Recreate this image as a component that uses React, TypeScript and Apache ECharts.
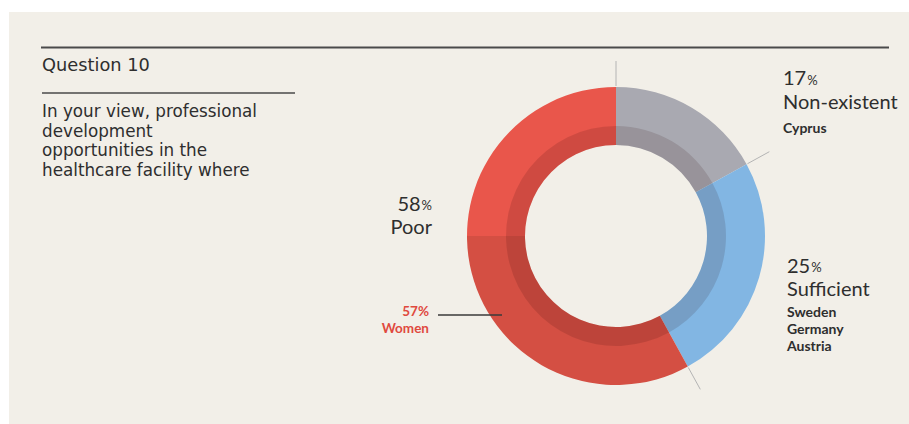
import React, { useEffect, useRef } from 'react';
import * as echarts from 'echarts';

const categories = ['Non-existent', 'Sufficient', 'Poor'];
const values = [17, 25, 58];
const countries = [['Cyprus'], ['Sweden', 'Germany', 'Austria'], []];
const womenShare = 57;
const womenLabel = 'Women';
const questionTitle = 'Question 10';
const questionLines = [
  'In your view, professional',
  'development',
  'opportunities in the',
  'healthcare facility where',
];

const W = 909;
const H = 424;
const CX = 616;
const CY = 236;
const R_IN = 91;
const R_BAND = 110;
const R_OUT = 149;
const FONT = 'Lato';
const BODY_FONT = '"DejaVu Sans", Lato';
const DARK = '#2e2e2e';

export default function App() {
  const ref = useRef<HTMLDivElement>(null);
  useEffect(() => {
    document.body.style.margin = '0';
    const chart = echarts.init(ref.current!, null, { renderer: 'svg' });
    const total = values.reduce((a, b) => a + b, 0);
    const redSplit = {
      type: 'linear', x: 0, y: 0, x2: 0, y2: H, global: true,
      colorStops: [
        { offset: 0, color: '#e9564b' },
        { offset: CY / H, color: '#e9564b' },
        { offset: CY / H, color: '#d44f43' },
        { offset: 1, color: '#d44f43' },
      ],
    };
    const colors: any[] = ['#a9a9b1', '#82b6e3', redSplit];

    let cum = 0;
    const ticks = values.map((v) => {
      const a = (cum / total) * 2 * Math.PI;
      cum += v;
      return {
        type: 'line', silent: true,
        shape: {
          x1: CX + (R_OUT + 1) * Math.sin(a), y1: CY - (R_OUT + 1) * Math.cos(a),
          x2: CX + (R_OUT + 26) * Math.sin(a), y2: CY - (R_OUT + 26) * Math.cos(a),
        },
        style: { stroke: '#b4b4b4', lineWidth: 1 },
      };
    });

    const txt = (x: number, y: number, text: string, size: number, opts: any = {}) => ({
      type: 'text', x, y, silent: true,
      style: {
        text, fontFamily: opts.family || FONT, fontSize: size, fill: opts.fill || DARK,
        fontWeight: opts.weight || 'normal', align: opts.align || 'left',
        verticalAlign: opts.valign || 'middle', lineHeight: opts.lineHeight,
        rich: opts.rich,
      },
    });
    const pctRich = (size: number) => ({
      n: { fontFamily: FONT, fontSize: size, fill: DARK, verticalAlign: 'bottom', color: DARK },
      p: { fontFamily: FONT, fontSize: 13, fill: DARK, verticalAlign: 'bottom', color: DARK, padding: [0, 0, 1, 1] },
    });
    const LH = 19.67;
    const SMALL_LH = 17;

    const elements: any[] = [
      { type: 'rect', shape: { x: 9, y: 12, width: W - 9, height: H - 12 }, style: { fill: '#f2efe8' }, silent: true, z: -10 },
      { type: 'line', shape: { x1: 41, y1: 47.5, x2: 889, y2: 47.5 }, style: { stroke: '#4a4a4a', lineWidth: 2 }, silent: true },
      { type: 'line', shape: { x1: 42, y1: 93, x2: 295, y2: 93 }, style: { stroke: '#4a4a4a', lineWidth: 1.5 }, silent: true },
      txt(42, 64.5, questionTitle, 17.8, { family: BODY_FONT }),
      txt(42, 111 - LH / 2, questionLines.join('\n'), 16.8, { valign: 'top', lineHeight: LH, family: BODY_FONT }),
      ...ticks,
      // Non-existent
      txt(783, 77, `{n|${values[0]}}{p|%}`, 20, { rich: pctRich(20) }),
      txt(783, 100.5, categories[0], 20),
      txt(783, 127 - SMALL_LH / 2, countries[0].join('\n'), 14, { weight: 'bold', valign: 'top', lineHeight: SMALL_LH }),
      // Sufficient
      txt(787, 264.5, `{n|${values[1]}}{p|%}`, 20, { rich: pctRich(20) }),
      txt(787, 287.5, categories[1], 20),
      txt(787, 311 - SMALL_LH / 2, countries[1].join('\n'), 14, { weight: 'bold', valign: 'top', lineHeight: SMALL_LH }),
      // Poor
      txt(432, 202.5, `{n|${values[2]}}{p|%}`, 20, { align: 'right', rich: pctRich(20) }),
      txt(432, 226, categories[2], 20, { align: 'right' }),
      // Women
      txt(429, 310.5 - SMALL_LH / 2, `${womenShare}%\n${womenLabel}`, 13.5, { align: 'right', weight: 'bold', fill: '#e0493e', valign: 'top', lineHeight: SMALL_LH }),
      { type: 'line', shape: { x1: 438, y1: 315, x2: 502, y2: 315 }, style: { stroke: '#3a3a3a', lineWidth: 1.5 }, silent: true, z: 10 },
    ];

    const data = categories.map((name, i) => ({ name, value: values[i], itemStyle: { color: colors[i] } }));
    chart.setOption({
      animation: false,
      backgroundColor: '#ffffff',
      graphic: { elements },
      series: [
        {
          type: 'pie', center: [CX, CY], radius: [R_IN, R_OUT], startAngle: 90, clockwise: true,
          data, label: { show: false }, labelLine: { show: false }, emphasis: { disabled: true }, silent: true,
          itemStyle: { borderWidth: 0 }, z: 2,
        },
        {
          type: 'pie', center: [CX, CY], radius: [R_IN, R_BAND], startAngle: 90, clockwise: true,
          data: categories.map((name, i) => ({ name, value: values[i] })),
          itemStyle: { color: 'rgba(40,0,0,0.13)', borderWidth: 0 },
          label: { show: false }, labelLine: { show: false }, emphasis: { disabled: true }, silent: true, z: 3,
        },
      ],
    });
    return () => chart.dispose();
  }, []);
  return <div ref={ref} style={{ width: W, height: H }} />;
}
